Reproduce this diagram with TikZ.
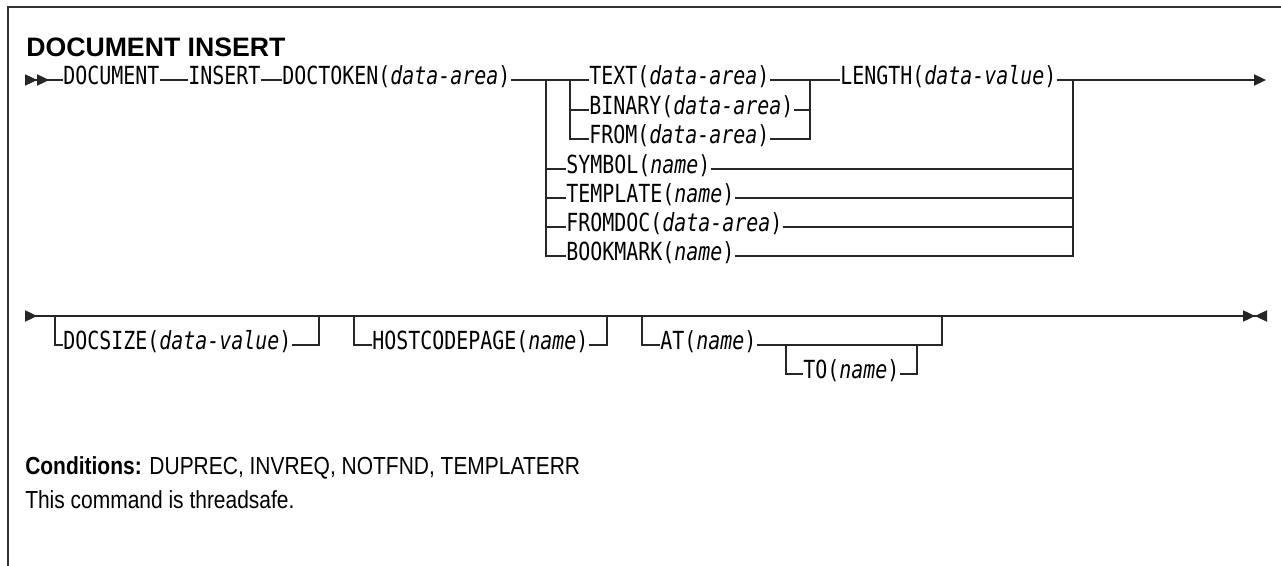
\documentclass[tikz,border=0pt]{standalone}
\usepackage{fontspec}
\setmainfont{Liberation Sans}
\setmonofont[FakeStretch=0.8]{DejaVu Sans Mono}
\newfontfamily\prosefont[FakeStretch=0.85]{Liberation Sans}
\usetikzlibrary{arrows.meta}
\tikzset{
    kw/.style={inner sep=0pt, anchor=west, text height=0.73em, text depth=0pt, font=\fontsize{18.7}{20}\selectfont\ttfamily},
    rail/.style={draw=black!85, line width=0.9pt},
    prose/.style={anchor=base west, inner sep=0pt, font=\fontsize{18.5}{21}\prosefont}
}

\begin{document}
\begin{tikzpicture}[x=0.75pt, y=-0.75pt, >={Triangle[length=9pt, width=8.5pt]}]
\useasboundingbox (0,0) rectangle (1281,566);
\draw[line width=1pt, black!80] (8,566) -- (8,7) -- (1281,7);
\node[anchor=base west, inner sep=0pt, font=\fontsize{20}{22}\selectfont\bfseries] (title) at (26,57) {DOCUMENT INSERT};

% first line
\coordinate (in1) at (25,80);
\node[kw] (document) at (63,80) {DOCUMENT};
\node[kw] (insert) at (188,80) {INSERT};
\node[kw] (doctoken) at (282,80) {DOCTOKEN(\textit{data-area})};
\coordinate (sa) at (546,80);
\coordinate (sb) at (570,80);
\node[kw] (text) at (589,80) {TEXT(\textit{data-area})};
\node[kw] (binary) at (589,110) {BINARY(\textit{data-area})};
\node[kw] (from) at (589,139) {FROM(\textit{data-area})};
\coordinate (jb) at (810,80);
\node[kw] (length) at (840,80) {LENGTH(\textit{data-value})};
\node[kw] (symbol) at (566,169) {SYMBOL(\textit{name})};
\node[kw] (template) at (566,198) {TEMPLATE(\textit{name})};
\node[kw] (fromdoc) at (566,227) {FROMDOC(\textit{data-area})};
\node[kw] (bookmark) at (566,256) {BOOKMARK(\textit{name})};
\coordinate (ja) at (1073,80);
\coordinate (out1) at (1266,80);

\draw[rail, >>-] (in1) -- (document);
\draw[rail] (document) -- (insert);
\draw[rail] (insert) -- (doctoken);
\draw[rail] (doctoken) -- (text);
\draw[rail] (text) -- (length);
\draw[rail, ->] (length) -- (out1);
\foreach \n in {binary,from} {
    \draw[rail] (sb) |- (\n);
    \draw[rail] (\n) -| (jb);
}
\foreach \n in {symbol,template,fromdoc,bookmark} {
    \draw[rail] (sa) |- (\n);
    \draw[rail] (\n) -| (ja);
}

% second line
\coordinate (in2) at (25,316);
\coordinate (out2) at (1267,316);
\coordinate (ds1) at (55,316);
\coordinate (ds2) at (319,316);
\node[kw] (docsize) at (63,345) {DOCSIZE(\textit{data-value})};
\coordinate (hc1) at (354,316);
\coordinate (hc2) at (607,316);
\node[kw] (hostcp) at (372,345) {HOSTCODEPAGE(\textit{name})};
\coordinate (at1) at (642,316);
\coordinate (at2) at (942,316);
\node[kw] (at) at (660,345) {AT(\textit{name})};
\coordinate (to1) at (786,345);
\coordinate (to2) at (917,345);
\node[kw] (to) at (803,374) {TO(\textit{name})};

\draw[rail, >-><] (in2) -- (out2);
\draw[rail] (ds1) |- (docsize);
\draw[rail] (docsize) -| (ds2);
\draw[rail] (hc1) |- (hostcp);
\draw[rail] (hostcp) -| (hc2);
\draw[rail] (at1) |- (at);
\draw[rail] (at) -| (at2);
\draw[rail] (to1) |- (to);
\draw[rail] (to) -| (to2);
\draw[rail, line width=1.8pt] (947,316) -- (971,316);

\node[prose] (cond) at (25,474) {\textbf{Conditions:} DUPREC, INVREQ, NOTFND, TEMPLATERR};
\node[prose] (safe) at (25,508) {This command is threadsafe.};
\end{tikzpicture}
\end{document}
